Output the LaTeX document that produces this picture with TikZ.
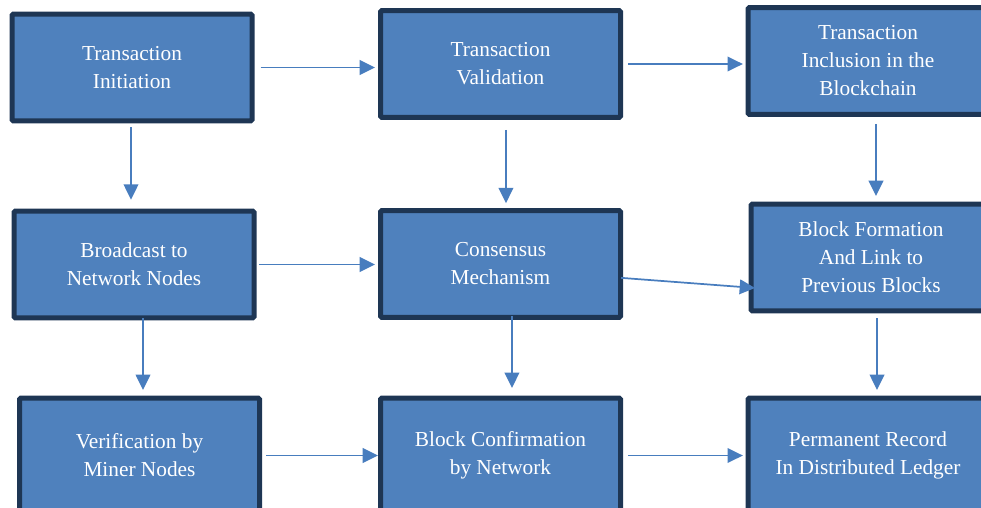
\documentclass[tikz,border=0pt]{standalone}
\usepackage{fontspec}
\setmainfont{Liberation Serif}
\usetikzlibrary{arrows.meta}

\definecolor{boxfill}{RGB}{79,129,189}
\definecolor{boxline}{RGB}{30,54,84}
\definecolor{flowline}{RGB}{72,125,190}

\begin{document}
\begin{tikzpicture}[x=0.75pt,y=0.75pt,yscale=-1,xscale=1,
  stage/.style={draw=boxline,line width=3.75pt,fill=boxfill,rounded corners=1pt,
    minimum width=180pt,minimum height=80pt,align=center,text=white,
    font=\fontsize{16pt}{21pt}\selectfont},
  flow/.style={draw=flowline,line width=1.3pt,-{Triangle[length=11.5pt,width=11pt]}}]
\clip (0,0) rectangle (981,507);

%Shape: Rectangle, top row
\node [stage] (init) at (132,67.5) {Transaction\\Initiation};
\node [stage] (valid) at (500.5,64) {Transaction\\Validation};
\node [stage] (incl) at (868,61) {Transaction\\Inclusion in the\\Blockchain};
%Shape: Rectangle, middle row
\node [stage] (bcast) at (134,264.5) {Broadcast to\\Network Nodes};
\node [stage] (cons) at (500.5,264) {Consensus\\Mechanism};
\node [stage] (form) at (871,257.5) {Block Formation\\And Link to\\Previous Blocks};
%Shape: Rectangle, bottom row (runs off the lower edge)
\node [stage,minimum height=86pt] (verif) at (139.5,455.5) {Verification by\\Miner Nodes};
\node [stage,minimum height=86pt] (conf) at (500.5,455.5) {Block Confirmation\\by Network};
\node [stage,minimum height=86pt] (rec) at (868,455.5) {Permanent Record\\In Distributed Ledger};

%Straight Lines, across
\draw [flow,shorten <=4.5pt,shorten >=2.25pt] (init.east) -- (init.east -| valid.west);
\draw [flow,shorten <=3.75pt,shorten >=2pt] (valid.east) -- (valid.east -| incl.west);
\draw [flow,shorten <=2pt,shorten >=2.25pt] (bcast.east) -- (bcast.east -| cons.west);
\draw [flow,shorten <=-1.5pt,shorten >=-4.9pt] ([yshift=10.5pt]cons.east) -- ([yshift=22.5pt]form.west);
\draw [flow,shorten <=3pt,shorten >=0pt] (verif.east) -- (verif.east -| conf.west);
\draw [flow,shorten <=3.75pt,shorten >=2pt] (conf.east) -- (conf.east -| rec.west);

%Straight Lines, down
\draw [flow,shorten <=3pt,shorten >=6.75pt] ([xshift=-0.75pt]init.south) -- ([xshift=-0.75pt]init.south |- bcast.north);
\draw [flow,shorten <=7.5pt,shorten >=3.75pt] ([xshift=4.1pt]valid.south) -- ([xshift=4.1pt]valid.south |- cons.north);
\draw [flow,shorten <=5.25pt,shorten >=4.25pt] ([xshift=6pt]incl.south) -- ([xshift=6pt]incl.south |- form.north);
\draw [flow,shorten <=-1.5pt,shorten >=4.3pt] ([xshift=6.75pt]bcast.south) -- ([xshift=6.75pt]bcast.south |- verif.north);
\draw [flow,shorten <=-3pt,shorten >=5.8pt] ([xshift=8.6pt]cons.south) -- ([xshift=8.6pt]cons.south |- conf.north);
\draw [flow,shorten <=3.5pt,shorten >=4.3pt] ([xshift=4.5pt]form.south) -- ([xshift=4.5pt]form.south |- rec.north);

\end{tikzpicture}
\end{document}
